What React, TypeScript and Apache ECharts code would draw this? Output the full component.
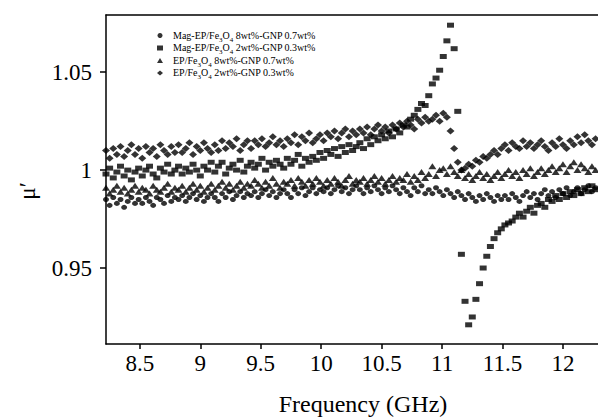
import React, { useEffect, useRef } from "react";
import * as echarts from "echarts";

const freq = [
  8.22, 8.25, 8.28, 8.31, 8.34, 8.37, 8.40, 8.43, 8.46, 8.49,
  8.52, 8.55, 8.58, 8.61, 8.64, 8.67, 8.70, 8.73, 8.76, 8.79,
  8.82, 8.85, 8.88, 8.91, 8.94, 8.97, 9.00, 9.03, 9.06, 9.09,
  9.12, 9.15, 9.18, 9.21, 9.24, 9.27, 9.30, 9.33, 9.36, 9.39,
  9.42, 9.45, 9.48, 9.51, 9.54, 9.57, 9.60, 9.63, 9.66, 9.69,
  9.72, 9.75, 9.78, 9.81, 9.84, 9.87, 9.90, 9.93, 9.96, 9.99,
  10.02, 10.05, 10.08, 10.11, 10.14, 10.17, 10.20, 10.23, 10.26, 10.29,
  10.32, 10.35, 10.38, 10.41, 10.44, 10.47, 10.50, 10.53, 10.56, 10.59,
  10.62, 10.65, 10.68, 10.71, 10.74, 10.77, 10.80, 10.83, 10.86, 10.89,
  10.92, 10.95, 10.98, 11.01, 11.04, 11.07, 11.10, 11.13, 11.16, 11.19,
  11.22, 11.25, 11.28, 11.31, 11.34, 11.37, 11.40, 11.43, 11.46, 11.49,
  11.52, 11.55, 11.58, 11.61, 11.64, 11.67, 11.70, 11.73, 11.76, 11.79,
  11.82, 11.85, 11.88, 11.91, 11.94, 11.97, 12.00, 12.03, 12.06, 12.09,
  12.12, 12.15, 12.18, 12.21, 12.24, 12.27, 12.30,
];

// Mag-EP/Fe3O4 8wt%-GNP 0.7wt% (circle)
const magEp8 = [
  0.985, 0.982, 0.986, 0.983, 0.985, 0.981, 0.984, 0.986, 0.983, 0.985,
  0.983, 0.986, 0.984, 0.982, 0.986, 0.985, 0.983, 0.987, 0.984, 0.986,
  0.985, 0.987, 0.984, 0.986, 0.988, 0.985, 0.987, 0.984, 0.986, 0.988,
  0.986, 0.984, 0.988, 0.986, 0.989, 0.985, 0.987, 0.989, 0.986, 0.988,
  0.987, 0.989, 0.986, 0.988, 0.990, 0.987, 0.989, 0.986, 0.988, 0.990,
  0.988, 0.986, 0.990, 0.988, 0.991, 0.987, 0.989, 0.991, 0.988, 0.990,
  0.989, 0.991, 0.988, 0.990, 0.992, 0.989, 0.991, 0.988, 0.990, 0.992,
  0.990, 0.988, 0.991, 0.989, 0.992, 0.990, 0.988, 0.991, 0.989, 0.992,
  0.990, 0.988, 0.991, 0.989, 0.987, 0.991, 0.989, 0.992, 0.988, 0.990,
  0.988, 0.991, 0.989, 0.987, 0.990, 0.988, 0.986, 0.989, 0.987, 0.985,
  0.988, 0.986, 0.984, 0.987, 0.985, 0.988, 0.986, 0.984, 0.987, 0.985,
  0.987, 0.985, 0.988, 0.986, 0.984, 0.987, 0.989, 0.986, 0.988, 0.985,
  0.988, 0.990, 0.987, 0.989, 0.986, 0.990, 0.988, 0.991, 0.987, 0.989,
  0.991, 0.988, 0.990, 0.992, 0.989, 0.991, 0.993,
];

// Mag-EP/Fe3O4 2wt%-GNP 0.3wt% (square)
const magEp2 = [
  0.998, 1.001, 0.996, 0.999, 1.002, 0.997, 1.000, 0.995, 0.999, 1.001,
  0.997, 1.000, 1.002, 0.998, 0.996, 1.001, 0.999, 1.003, 0.998, 1.000,
  1.002, 0.998, 1.001, 0.999, 1.003, 1.000, 0.997, 1.002, 1.000, 1.004,
  0.999, 1.002, 1.004, 0.998, 1.001, 1.003, 1.000, 1.005, 0.999, 1.002,
  1.004, 1.001, 1.003, 1.006, 1.000, 1.004, 1.002, 1.005, 1.003, 1.001,
  1.006, 1.003, 1.005, 1.008, 1.002, 1.006, 1.004, 1.007, 1.005, 1.009,
  1.006, 1.010, 1.008, 1.011, 1.007, 1.012, 1.009, 1.013, 1.010, 1.012,
  1.014, 1.011, 1.016, 1.013, 1.017, 1.015, 1.018, 1.016, 1.020, 1.017,
  1.021, 1.019, 1.023, 1.022, 1.026, 1.028, 1.031, 1.034, 1.033, 1.038,
  1.044, 1.047, 1.051, 1.058, 1.066, 1.074, 1.062, 1.030, 0.957, 0.933,
  0.921, 0.925, 0.934, 0.942, 0.950, 0.956, 0.961, 0.965, 0.968, 0.970,
  0.972, 0.973, 0.974, 0.976, 0.978, 0.976, 0.979, 0.981, 0.978, 0.982,
  0.983, 0.981, 0.985, 0.984, 0.987, 0.985, 0.988, 0.986, 0.989, 0.987,
  0.990, 0.988, 0.991, 0.989, 0.992, 0.990, 0.993,
];

// EP/Fe3O4 8wt%-GNP 0.7wt% (triangle)
const ep8 = [
  0.991, 0.988, 0.990, 0.992, 0.989, 0.991, 0.988, 0.990, 0.992, 0.989,
  0.991, 0.990, 0.988, 0.992, 0.990, 0.989, 0.991, 0.993, 0.989, 0.991,
  0.990, 0.992, 0.989, 0.991, 0.993, 0.990, 0.992, 0.989, 0.991, 0.993,
  0.990, 0.992, 0.994, 0.991, 0.993, 0.990, 0.992, 0.994, 0.991, 0.993,
  0.992, 0.995, 0.993, 0.991, 0.994, 0.992, 0.996, 0.993, 0.991, 0.994,
  0.993, 0.995, 0.992, 0.996, 0.994, 0.992, 0.995, 0.993, 0.996, 0.994,
  0.992, 0.995, 0.993, 0.996, 0.994, 0.992, 0.995, 0.997, 0.993, 0.995,
  0.994, 0.996, 0.993, 0.995, 0.997, 0.994, 0.996, 0.993, 0.995, 0.997,
  0.994, 0.996, 0.995, 0.998, 0.994, 0.997, 0.995, 0.999, 0.996, 0.998,
  1.002, 0.997, 1.000, 1.001, 0.998, 1.002, 0.999, 0.997, 1.000, 0.996,
  0.998, 0.995, 0.997, 0.999, 0.996, 0.998, 0.995, 0.997, 0.999, 0.996,
  0.998, 1.000, 0.997, 0.999, 0.996, 1.000, 0.998, 1.001, 0.997, 0.999,
  1.001, 0.998, 1.000, 1.002, 0.999, 1.001, 1.003, 0.999, 1.002, 1.004,
  1.000, 1.003, 1.001, 0.999, 1.002, 1.000, 1.003,
];

// EP/Fe3O4 2wt%-GNP 0.3wt% (diamond)
const ep2 = [
  1.010, 1.006, 1.011, 1.008, 1.012, 1.007, 1.010, 1.013, 1.008, 1.011,
  1.006, 1.012, 1.009, 1.011, 1.007, 1.013, 1.010, 1.008, 1.012, 1.009,
  1.013, 1.009, 1.011, 1.014, 1.008, 1.012, 1.010, 1.014, 1.011, 1.009,
  1.013, 1.010, 1.015, 1.011, 1.014, 1.012, 1.016, 1.010, 1.013, 1.015,
  1.011, 1.015, 1.013, 1.016, 1.012, 1.014, 1.017, 1.013, 1.015, 1.012,
  1.016, 1.014, 1.018, 1.013, 1.017, 1.015, 1.019, 1.014, 1.016, 1.018,
  1.015, 1.019, 1.017, 1.020, 1.016, 1.019, 1.021, 1.017, 1.020, 1.018,
  1.021, 1.019, 1.022, 1.018, 1.021, 1.023, 1.020, 1.022, 1.019, 1.023,
  1.021, 1.024, 1.022, 1.025, 1.023, 1.021, 1.026, 1.024, 1.027, 1.025,
  1.026, 1.028, 1.025, 1.029, 1.027, 1.020, 1.011, 1.004, 1.000, 1.001,
  1.003, 1.002, 1.005, 1.004, 1.007, 1.006, 1.008, 1.010, 1.008, 1.011,
  1.013, 1.010, 1.014, 1.012, 1.011, 1.015, 1.012, 1.014, 1.011, 1.013,
  1.015, 1.012, 1.010, 1.014, 1.012, 1.016, 1.013, 1.011, 1.015, 1.013,
  1.017, 1.014, 1.018, 1.015, 1.013, 1.016, 1.012,
];

const seriesNames = [
  "Mag-EP/Fe3O4 8wt%-GNP 0.7wt%",
  "Mag-EP/Fe3O4 2wt%-GNP 0.3wt%",
  "EP/Fe3O4 8wt%-GNP 0.7wt%",
  "EP/Fe3O4 2wt%-GNP 0.3wt%",
];
const xTicks = [8.5, 9, 9.5, 10, 10.5, 11, 11.5, 12];
const yTicks = [0.95, 1, 1.05];
const xTitle = "Frequency (GHz)";
const yTitle = "μ′";

export default function App() {
  const ref = useRef<HTMLDivElement>(null);
  useEffect(() => {
    const chart = echarts.init(ref.current!, null, { renderer: "svg" });
    const serif = "Liberation Serif";
    const pair = (ys: number[]) => freq.map((f, i) => [f, ys[i]]);
    const symbols = ["circle", "rect", "triangle", "diamond"];
    const sizes = [[6, 5], [7, 5], [8, 6], [8, 7]];
    const legendIcons = ["circle", "rect", "triangle", "diamond"];
    const datas = [magEp8, magEp2, ep8, ep2];
    const axisLineStyle = { color: "#000", width: 1.5 };
    chart.setOption({
      animation: false,
      backgroundColor: "#fff",
      grid: { left: 106, top: 15, right: 0, height: 329 },
      legend: {
        orient: "vertical",
        left: 152,
        top: 25,
        itemWidth: 6,
        itemHeight: 5,
        itemGap: -0.5,
        data: seriesNames.map((name, k) => ({ name, icon: legendIcons[k] })),
        formatter: (name: string) => {
          const parts = name.split("Fe3O4");
          return `{sp| }{t|${parts[0]}Fe}{s|3}{t|O}{s|4}{t|${parts[1]}}`;
        },
        textStyle: {
          color: "#000",
          fontFamily: serif,
          rich: {
            sp: { width: 5, fontSize: 10, lineHeight: 11, verticalAlign: "top" },
            t: { fontSize: 10, lineHeight: 11, verticalAlign: "top", fontFamily: serif, color: "#000" },
            s: { fontSize: 7, lineHeight: 7, padding: [6, 0, 0, 0], verticalAlign: "top", fontFamily: serif, color: "#000" },
          },
        },
      },
      xAxis: [
        {
          type: "value",
          min: 8.22,
          max: 12.29,
          splitLine: { show: false },
          axisLine: { lineStyle: axisLineStyle },
          axisTick: { customValues: xTicks, length: 5, lineStyle: axisLineStyle },
          axisLabel: {
            customValues: xTicks, margin: 8, fontSize: 23, fontFamily: serif, color: "#000",
          },
        },
        {
          type: "value",
          position: "top",
          min: 8.22,
          max: 12.29,
          splitLine: { show: false },
          axisLine: { show: true, lineStyle: axisLineStyle },
          axisTick: { show: false },
          axisLabel: { show: false },
        },
      ],
      yAxis: {
        type: "value",
        min: 0.9112,
        max: 1.0792,
        splitLine: { show: false },
        axisLine: { lineStyle: axisLineStyle },
        axisTick: { customValues: yTicks, length: 6, lineStyle: axisLineStyle },
        axisLabel: {
          customValues: yTicks, margin: 14, fontSize: 23, fontFamily: serif, color: "#000",
        },
      },
      graphic: [
        {
          type: "text", x: 363, y: 404,
          style: { text: xTitle, fontSize: 24, fontFamily: serif, fill: "#000", textAlign: "center", textVerticalAlign: "middle" },
        },
        {
          type: "text", x: 27, y: 191, rotation: Math.PI / 2,
          style: { text: yTitle, fontSize: 23, fontFamily: serif, fill: "#000", textAlign: "center", textVerticalAlign: "middle" },
        },
      ],
      series: seriesNames.map((name, k) => ({
        name,
        type: "scatter",
        symbol: symbols[k],
        symbolSize: sizes[k],
        itemStyle: { color: "#000" },
        data: pair(datas[k]),
      })),
    });
    return () => chart.dispose();
  }, []);
  return <div ref={ref} style={{ position: "fixed", left: 0, top: 0, width: 598, height: 418 }} />;
}
